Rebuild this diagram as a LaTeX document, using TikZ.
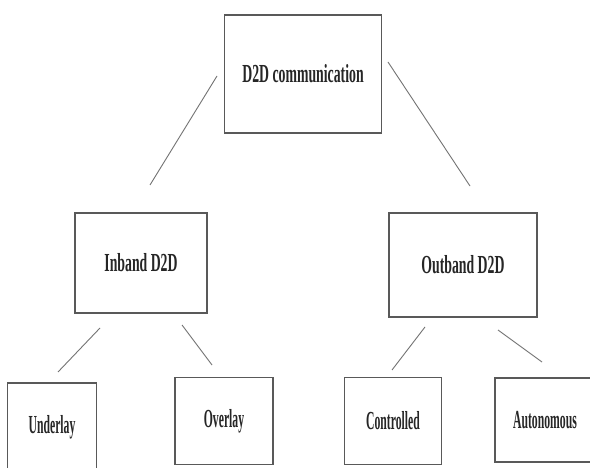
\documentclass[tikz,border=0pt]{standalone}
\usepackage{fontspec}
\setmainfont{Liberation Serif}
\begin{document}
\begin{tikzpicture}[x=1pt,y=-1pt,
  box/.style={draw=black!65, line width=1.6pt, rectangle, inner sep=0pt, font=\fontsize{26}{26}\selectfont\bfseries, text=black!85},
  link/.style={draw=black!55, line width=0.9pt}]
\useasboundingbox (0,0) rectangle (590,468);
\fill[white] (0,0) rectangle (590,468);
\clip (0,0) rectangle (590,468);
% boxes
\node[box, minimum width=157pt, minimum height=118pt] (top) at (303,74) {\scalebox{0.53}[1]{D2D communication}};
\node[box, minimum width=132pt, minimum height=100pt] (inband) at (141,263) {\scalebox{0.53}[1]{Inband D2D}};
\node[box, minimum width=148pt, minimum height=104pt] (outband) at (463,265) {\scalebox{0.53}[1]{Outband D2D}};
\node[box, minimum width=89pt, minimum height=88pt] (underlay) at (52,427) {\scalebox{0.45}[1]{Underlay}};
\node[box, minimum width=98pt, minimum height=87pt] (overlay) at (224,421) {\scalebox{0.45}[1]{Overlay}};
\node[box, minimum width=97pt, minimum height=87pt] (controlled) at (393,421) {\scalebox{0.45}[1]{Controlled}};
\node[box, minimum width=100pt, minimum height=84pt] (autonomous) at (545,420) {\scalebox{0.45}[1]{Autonomous}};
% connector ends
\coordinate (t1) at (217,76);  \coordinate (t2) at (150,185);
\coordinate (t3) at (388,62);  \coordinate (t4) at (470,186);
\coordinate (i1) at (100,328); \coordinate (i2) at (58,372);
\coordinate (i3) at (182,325); \coordinate (i4) at (212,365);
\coordinate (o1) at (425,327); \coordinate (o2) at (392,370);
\coordinate (o3) at (498,330); \coordinate (o4) at (542,362);
\draw[link] (t1) -- (t2);
\draw[link] (t3) -- (t4);
\draw[link] (i1) -- (i2);
\draw[link] (i3) -- (i4);
\draw[link] (o1) -- (o2);
\draw[link] (o3) -- (o4);
\end{tikzpicture}
\end{document}
